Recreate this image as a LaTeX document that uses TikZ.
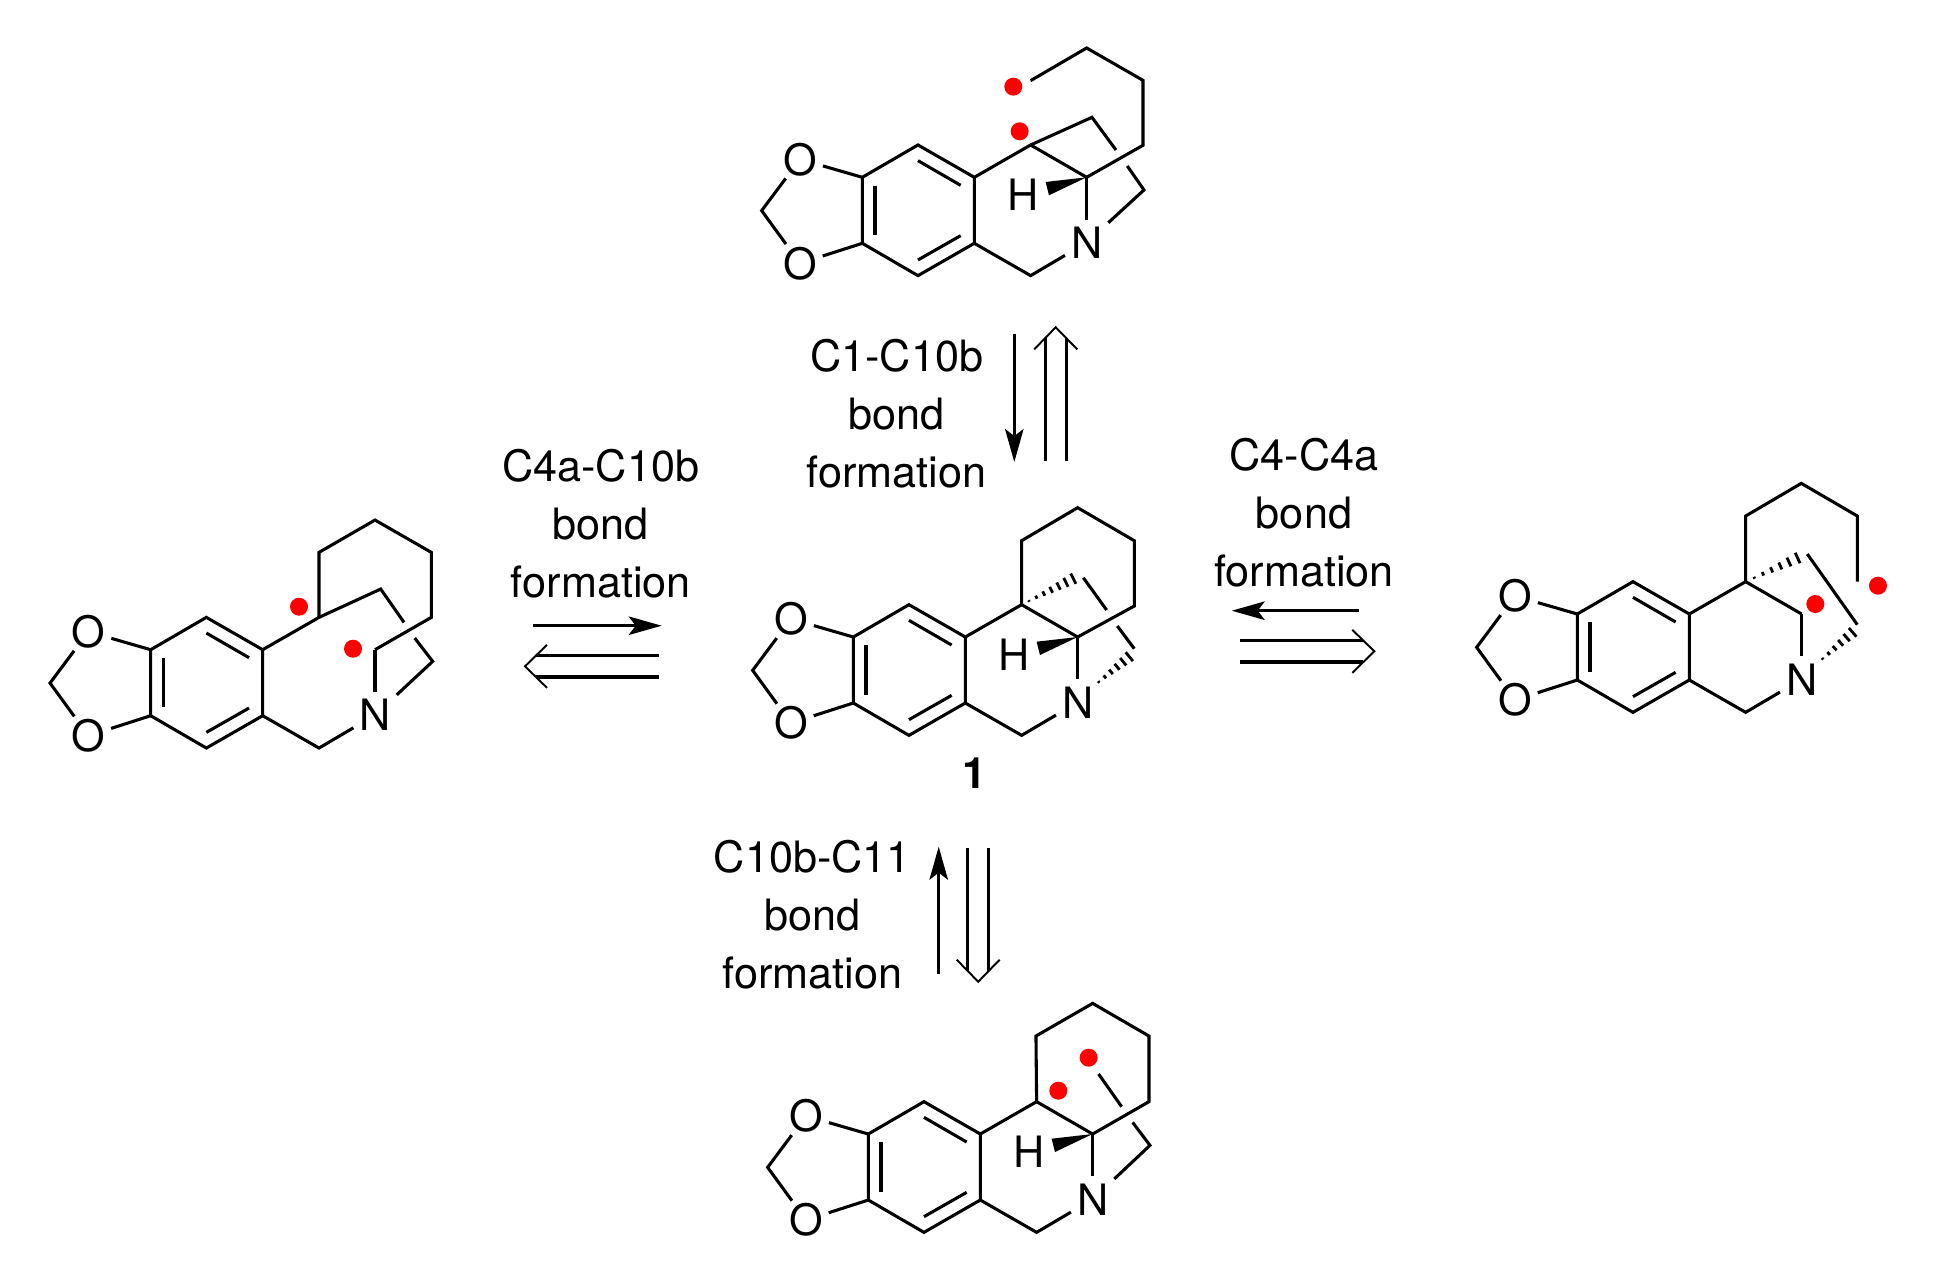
\documentclass[tikz,border=0pt]{standalone}
\usepackage{fontspec}
\setmainfont{TeX Gyre Heros}
\usetikzlibrary{arrows.meta,calc}

\tikzset{
  bond/.style={line width=1.75pt},
  thinbond/.style={line width=1.1pt},
  hashline/.style={line width=1.6pt},
  atomO/.style={circle, inner sep=0pt, minimum size=.907cm, font=\fontsize{24.6}{28}\selectfont},
  atomN/.style={rectangle, inner sep=0pt, minimum width=.853cm, minimum height=.907cm, font=\fontsize{24.6}{28}\selectfont},
  atomH/.style={inner sep=0pt, font=\fontsize{24.6}{28}\selectfont},
  spin/.style={circle, fill=red, inner sep=0pt, minimum size=.36cm},
  caption/.style={align=center, inner sep=0pt, font=\fontsize{24.6}{33}\selectfont},
  fwd/.style={line width=1.5pt, -{Stealth[length=.66cm,width=.37cm,inset=.14cm]}},
  mol/.style={x=.0066667cm, y=-.0066667cm}
}

\begin{document}
\begin{tikzpicture}[x=.02cm, y=-.02cm]

  \useasboundingbox (0,0) rectangle (1940,1276);

  % benzodioxole and the B ring
  \newcommand\SKEL[1]{
    \coordinate (#1A) at (0,0);
    \coordinate (#1B) at (167,-97);
    \coordinate (#1C) at (336,0);
    \coordinate (#1D) at (336,198);
    \coordinate (#1E) at (167,295);
    \coordinate (#1F) at (0,198);
    \coordinate (#1CH) at (-302,100);
    \coordinate (#1Cb) at (505,-97);
    \coordinate (#1Bn) at (505,295);
    \coordinate (#1Ca) at (673,0);
    \node[atomO] (#1Oa) at (-187,-54) {O};
    \node[atomO] (#1Ob) at (-187,258) {O};
    \node[atomN] (#1N) at (673,196) {N};
    \draw[bond] (#1A) -- (#1B) -- (#1C) -- (#1D) -- (#1E) -- (#1F) -- cycle;
    \draw[bond] (167,-50) -- (295,24);
    \draw[bond] (38,25) -- (38,173);
    \draw[bond] (167,248) -- (295,175);
    \draw[bond] (#1Oa) -- (#1A);
    \draw[bond] (#1Ob) -- (#1F);
    \draw[bond] (#1Oa) -- (#1CH) -- (#1Ob);
    \draw[bond] (#1C) -- (#1Cb);
    \draw[bond] (#1Ca) -- (#1N);
    \draw[bond] (#1D) -- (#1Bn) -- (#1N);
  }

  % H and its wedge
  \newcommand\HWEDGE[1]{
    \node[atomH] (#1H) at (483,52) {H};
    \coordinate (#1Wa) at (550,14);
    \coordinate (#1Wb) at (560,54);
    \fill (#1Ca) -- (#1Wa) -- (#1Wb) -- cycle;
  }

  % hashed bond: from, to, number of strokes
  \newcommand\HASHB[3]{
    \foreach \i in {1,...,#3}{
      \pgfmathsetmacro\f{\i/#3}
      \pgfmathsetmacro\w{.115*\f}
      \draw[hashline] ($(#1)!\f!(#2)!\w cm!90:(#1)$) -- ($(#1)!\f!(#2)!\w cm!-90:(#1)$);
    }
  }

  % open arrow: tail, apex
  \newcommand\RETRO[2]{
    \draw[bond] ($(#1)!.213cm!90:(#2)$) -- ($(#2)!.22cm!(#1)!.213cm!-90:(#1)$);
    \draw[bond] ($(#1)!.213cm!-90:(#2)$) -- ($(#2)!.22cm!(#1)!.213cm!90:(#1)$);
    \draw[thinbond] ($(#2)!.44cm!(#1)!.43cm!90:(#1)$) -- (#2) -- ($(#2)!.44cm!(#1)!.43cm!-90:(#1)$);
  }

  % top
  \begin{scope}[shift={(862.3,177.3)}, mol]
    \SKEL{t}
    \HWEDGE{t}
    \draw[bond] (tCb) -- (tCa);
    \coordinate (tRa) at (505,-290);
    \coordinate (tRb) at (673,-388);
    \coordinate (tRc) at (842,-291);
    \coordinate (tRd) at (842,-96);
    \draw[bond] (tRa) -- (tRb) -- (tRc) -- (tRd) -- (tCa);
    \coordinate (tBa) at (689,-180);
    \coordinate (tBb) at (761,-82);
    \coordinate (tBc) at (795,-34);
    \coordinate (tBd) at (845,38);
    \draw[bond] (tCb) -- (tBa) -- (tBb);
    \draw[bond] (tBc) -- (tBd) -- (tN);
    \node[spin] (tSa) at (453,-272) {};
    \node[spin] (tSb) at (472,-138) {};
  \end{scope}

  % centre
  \begin{scope}[shift={(853.3,637)}, mol]
    \SKEL{c}
    \HWEDGE{c}
    \draw[bond] (cCb) -- (cCa);
    \coordinate (cRa) at (505,-289);
    \coordinate (cRb) at (673,-388);
    \coordinate (cRc) at (843,-289);
    \coordinate (cRd) at (843,-93);
    \draw[bond] (cCb) -- (cRa) -- (cRb) -- (cRc) -- (cRd) -- (cCa);
    \coordinate (cHa) at (660,-175);
    \HASHB{cCb}{cHa}{7}
    \coordinate (cBa) at (690,-178);
    \coordinate (cBb) at (760,-81);
    \coordinate (cBc) at (792,-33);
    \coordinate (cBd) at (843,35);
    \draw[bond] (cBa) -- (cBb);
    \draw[bond] (cBc) -- (cBd);
    \coordinate (cHb) at (718,150);
    \coordinate (cHc) at (828,59);
    \HASHB{cHb}{cHc}{6}
    \node[font=\fontsize{24.6}{28}\selectfont\bfseries, inner sep=0pt] (cOne) at (365,407) {1};
  \end{scope}

  % left
  \begin{scope}[shift={(150.7,649.7)}, mol]
    \SKEL{l}
    \coordinate (lRa) at (505,-292);
    \coordinate (lRb) at (673,-389);
    \coordinate (lRc) at (842,-292);
    \coordinate (lRd) at (842,-97);
    \draw[bond] (lCb) -- (lRa) -- (lRb) -- (lRc) -- (lRd) -- (lCa);
    \coordinate (lBa) at (690,-182);
    \coordinate (lBb) at (760,-82);
    \coordinate (lBc) at (792,-35);
    \coordinate (lBd) at (846,35);
    \draw[bond] (lCb) -- (lBa) -- (lBb);
    \draw[bond] (lBc) -- (lBd) -- (lN);
    \node[spin] (lSa) at (445,-129) {};
    \node[spin] (lSb) at (607,-3) {};
  \end{scope}

  % right
  \begin{scope}[shift={(1577.3,614)}, mol]
    \SKEL{r}
    \draw[bond] (rCb) -- (rCa);
    \coordinate (rRa) at (505,-294);
    \coordinate (rRb) at (672,-392);
    \coordinate (rRc) at (840,-294);
    \coordinate (rRd) at (840,-97);
    \draw[bond] (rCb) -- (rRa) -- (rRb) -- (rRc) -- (rRd);
    \coordinate (rHa) at (661,-168);
    \HASHB{rCb}{rHa}{6}
    \coordinate (rBa) at (690,-180);
    \coordinate (rBb) at (840,32);
    \draw[bond] (rBa) -- (rBb);
    \coordinate (rHb) at (718,150);
    \coordinate (rHc) at (826,55);
    \HASHB{rHb}{rHc}{6}
    \node[spin] (rSa) at (902,-85) {};
    \node[spin] (rSb) at (714,-30) {};
  \end{scope}

  % bottom
  \begin{scope}[shift={(868.3,1134)}, mol]
    \SKEL{b}
    \HWEDGE{b}
    \draw[bond] (bCb) -- (bCa);
    \coordinate (bRa) at (503,-294);
    \coordinate (bRb) at (673,-392);
    \coordinate (bRc) at (842,-294);
    \coordinate (bRd) at (842,-97);
    \draw[bond] (bCb) -- (bRa) -- (bRb) -- (bRc) -- (bRd) -- (bCa);
    \coordinate (bBa) at (691,-180);
    \coordinate (bBb) at (760,-82);
    \coordinate (bBc) at (793,-35);
    \coordinate (bBd) at (845,34);
    \draw[bond] (bBa) -- (bBb);
    \draw[bond] (bBc) -- (bBd) -- (bN);
    \node[spin] (bSa) at (661,-229) {};
    \node[spin] (bSb) at (570,-130) {};
  \end{scope}

  \node[caption] (capU) at (896.7,413.5) {C1-C10b\\bond\\formation};
  \node[caption] (capL) at (600.8,524) {C4a-C10b\\bond\\formation};
  \node[caption] (capR) at (1304,512.5) {C4-C4a\\bond\\formation};
  \node[caption] (capD) at (812.3,915) {C10b-C11\\bond\\formation};

  \coordinate (upA) at (1014.3,334);
  \coordinate (upB) at (1014.3,462);
  \draw[fwd] (upA) -- (upB);
  \coordinate (upC) at (1055.7,461);
  \coordinate (upD) at (1055.7,327.3);
  \RETRO{upC}{upD}

  \coordinate (ltA) at (533.3,625.7);
  \coordinate (ltB) at (661.7,625.7);
  \draw[fwd] (ltA) -- (ltB);
  \coordinate (ltC) at (659,666.3);
  \coordinate (ltD) at (525,666.3);
  \RETRO{ltC}{ltD}

  \coordinate (rtA) at (1359,610.7);
  \coordinate (rtB) at (1231.7,610.7);
  \draw[fwd] (rtA) -- (rtB);
  \coordinate (rtC) at (1240,651.3);
  \coordinate (rtD) at (1374.3,651.3);
  \RETRO{rtC}{rtD}

  \coordinate (dnA) at (938.7,974);
  \coordinate (dnB) at (938.7,846.7);
  \draw[fwd] (dnA) -- (dnB);
  \coordinate (dnC) at (978.2,848.3);
  \coordinate (dnD) at (978.2,981.7);
  \RETRO{dnC}{dnD}

\end{tikzpicture}
\end{document}
